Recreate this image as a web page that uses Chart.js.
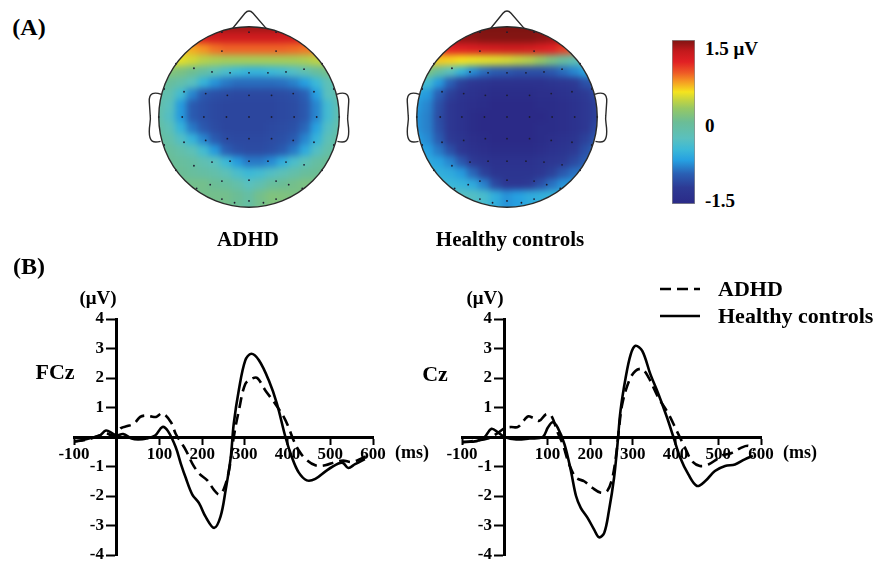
<!DOCTYPE html>
<html>
<head>
<meta charset="utf-8">
<script src="https://cdn.jsdelivr.net/npm/chart.js@4.4.0/dist/chart.umd.min.js"></script>
<style>
body { margin: 0; background: #fff; }
#fig { position: relative; width: 874px; height: 565px; overflow: hidden;
       font-family: "Liberation Serif", "Times New Roman", serif; font-weight: bold; color: #000; }
#fig canvas { position: absolute; }
.lbl { position: absolute; transform: translate(-50%, -50%); white-space: nowrap; line-height: 1; }
.lft { position: absolute; transform: translate(0, -50%); white-space: nowrap; line-height: 1; }
</style>
</head>
<body>
<div id="fig">
  <canvas id="headAdhd" width="230" height="230" style="left:134px;top:2px"></canvas>
  <canvas id="headCtrl" width="230" height="230" style="left:392px;top:2px"></canvas>
  <canvas id="colorBar" width="23" height="164" style="left:672px;top:40px"></canvas>
  <canvas id="erpFCz" width="400" height="300" style="left:20px;top:270px"></canvas>
  <canvas id="erpCz" width="444" height="300" style="left:430px;top:270px"></canvas>

  <div class="lbl" style="left:29px;top:27px;font-size:24px">(A)</div>
  <div class="lbl" style="left:248px;top:239px;font-size:21px">ADHD</div>
  <div class="lbl" style="left:510px;top:239px;font-size:21px">Healthy controls</div>
  <div class="lft" style="left:705px;top:48px;font-size:19px">1.5 μV</div>
  <div class="lft" style="left:705px;top:125px;font-size:19px">0</div>
  <div class="lft" style="left:705px;top:200px;font-size:19px">-1.5</div>

  <div class="lbl" style="left:29px;top:266px;font-size:24px">(B)</div>
  <div class="lbl" style="left:98px;top:297px;font-size:19px">(μV)</div>
  <div class="lbl" style="left:55px;top:372px;font-size:22px">FCz</div>
  <div class="lbl" style="left:412px;top:452px;font-size:18px">(ms)</div>
  <div class="lbl" style="left:485px;top:297px;font-size:19px">(μV)</div>
  <div class="lbl" style="left:435px;top:374px;font-size:22px">Cz</div>
  <div class="lbl" style="left:800px;top:452px;font-size:18px">(ms)</div>
</div>

<script>
// ---- topography grids (rows from front of head to back, columns left to right)
const gridU = [-1, -0.875, -0.75, -0.625, -0.5, -0.375, -0.25, -0.125, 0, 0.125, 0.25, 0.375, 0.5, 0.625, 0.75, 0.875, 1];

const topoAdhd = [
  [1.4, 1.4, 1.4, 1.4, 1.4, 1.4, 1.4, 1.4, 1.4, 1.4, 1.4, 1.4, 1.4, 1.4, 1.4, 1.4, 1.4],
  [1.12, 1.12, 1.14, 1.16, 1.18, 1.2, 1.22, 1.22, 1.22, 1.22, 1.22, 1.2, 1.2, 1.17, 1.14, 1.12, 1.12],
  [0.62, 0.62, 0.65, 0.7, 0.76, 0.84, 0.88, 0.88, 0.88, 0.88, 0.88, 0.88, 0.86, 0.83, 0.8, 0.76, 0.76],
  [0.55, 0.55, 0.5, 0.44, 0.36, 0.32, 0.3, 0.3, 0.3, 0.3, 0.3, 0.3, 0.3, 0.32, 0.38, 0.42, 0.42],
  [0.15, 0.15, 0.1, 0.02, -0.1, -0.25, -0.4, -0.5, -0.55, -0.55, -0.5, -0.45, -0.35, -0.2, -0.05, 0.05, 0.1],
  [-0.05, -0.05, -0.15, -0.3, -0.55, -0.75, -0.85, -0.9, -0.9, -0.9, -0.9, -0.88, -0.82, -0.7, -0.5, -0.25, -0.15],
  [-0.15, -0.2, -0.45, -0.8, -1.0, -1.05, -1.08, -1.1, -1.1, -1.1, -1.1, -1.08, -1.05, -0.95, -0.7, -0.3, -0.15],
  [-0.15, -0.3, -0.72, -0.98, -1.05, -1.1, -1.12, -1.12, -1.12, -1.12, -1.12, -1.1, -1.08, -1.0, -0.8, -0.45, -0.2],
  [-0.15, -0.35, -0.72, -0.98, -1.05, -1.1, -1.12, -1.12, -1.12, -1.12, -1.12, -1.1, -1.08, -1.0, -0.8, -0.45, -0.2],
  [-0.1, -0.25, -0.55, -0.85, -1.0, -1.08, -1.12, -1.12, -1.12, -1.12, -1.1, -1.08, -1.05, -0.92, -0.68, -0.35, -0.15],
  [-0.05, -0.15, -0.35, -0.55, -0.8, -0.98, -1.08, -1.1, -1.1, -1.1, -1.08, -1.05, -0.98, -0.8, -0.55, -0.25, -0.1],
  [0, -0.05, -0.15, -0.25, -0.45, -0.72, -0.95, -1.05, -1.08, -1.08, -1.05, -0.98, -0.85, -0.62, -0.35, -0.15, -0.05],
  [0.05, 0, -0.05, -0.1, -0.2, -0.3, -0.5, -0.72, -0.85, -0.85, -0.78, -0.6, -0.4, -0.25, -0.1, 0, 0],
  [0.05, 0.05, 0, -0.05, -0.1, -0.15, -0.25, -0.4, -0.5, -0.45, -0.35, -0.25, -0.15, -0.05, 0, 0.05, 0.05],
  [0.05, 0.05, 0.05, 0.05, 0.05, 0, -0.05, -0.15, -0.3, -0.2, -0.05, 0, 0.05, 0.1, 0.1, 0.1, 0.1],
  [0.05, 0.05, 0.05, 0.05, 0.05, 0.05, 0.05, 0, -0.1, 0.05, 0.12, 0.12, 0.1, 0.08, 0.08, 0.08, 0.08],
  [0.05, 0.05, 0.05, 0.05, 0.05, 0.05, 0.05, 0, -0.1, 0.05, 0.12, 0.12, 0.1, 0.08, 0.08, 0.08, 0.08]
];

const topoCtrl = [
  [1.5, 1.5, 1.5, 1.5, 1.5, 1.5, 1.5, 1.5, 1.5, 1.5, 1.5, 1.5, 1.5, 1.5, 1.5, 1.5, 1.5],
  [1.4, 1.4, 1.42, 1.42, 1.45, 1.45, 1.48, 1.48, 1.48, 1.48, 1.48, 1.45, 1.42, 1.4, 1.38, 1.35, 1.35],
  [1.05, 1.05, 1.08, 1.1, 1.12, 1.15, 1.18, 1.2, 1.22, 1.22, 1.2, 1.15, 1.1, 1.0, 0.9, 0.8, 0.8],
  [0.62, 0.62, 0.62, 0.6, 0.56, 0.52, 0.5, 0.48, 0.45, 0.4, 0.35, 0.25, 0.1, -0.05, -0.2, -0.3, -0.3],
  [0.15, 0.1, -0.08, -0.3, -0.55, -0.78, -0.9, -0.98, -1.0, -1.05, -1.05, -1.05, -1.0, -0.9, -0.8, -0.65, -0.6],
  [-0.4, -0.45, -0.72, -0.95, -1.15, -1.25, -1.3, -1.35, -1.35, -1.35, -1.35, -1.35, -1.3, -1.25, -1.2, -1.05, -0.95],
  [-0.65, -0.72, -0.95, -1.15, -1.3, -1.35, -1.4, -1.45, -1.45, -1.45, -1.45, -1.4, -1.4, -1.35, -1.3, -1.2, -1.1],
  [-0.72, -0.8, -1.05, -1.25, -1.35, -1.4, -1.45, -1.5, -1.5, -1.5, -1.5, -1.45, -1.45, -1.4, -1.35, -1.25, -1.15],
  [-0.75, -0.82, -1.08, -1.25, -1.35, -1.45, -1.5, -1.5, -1.5, -1.5, -1.5, -1.5, -1.45, -1.4, -1.35, -1.25, -1.15],
  [-0.75, -0.82, -1.05, -1.25, -1.35, -1.45, -1.5, -1.5, -1.5, -1.5, -1.5, -1.45, -1.45, -1.4, -1.35, -1.25, -1.1],
  [-0.7, -0.78, -0.98, -1.2, -1.3, -1.4, -1.45, -1.5, -1.5, -1.5, -1.5, -1.45, -1.4, -1.35, -1.3, -1.15, -1.0],
  [-0.65, -0.7, -0.85, -1.05, -1.25, -1.35, -1.4, -1.45, -1.45, -1.45, -1.45, -1.4, -1.35, -1.3, -1.2, -1.05, -0.9],
  [-0.6, -0.62, -0.68, -0.8, -1.0, -1.2, -1.3, -1.35, -1.35, -1.35, -1.35, -1.3, -1.25, -1.2, -1.1, -0.95, -0.85],
  [-0.55, -0.55, -0.58, -0.62, -0.72, -0.92, -1.15, -1.3, -1.3, -1.3, -1.3, -1.25, -1.15, -1.0, -0.88, -0.82, -0.82],
  [-0.5, -0.5, -0.5, -0.52, -0.55, -0.62, -0.82, -1.1, -1.25, -1.25, -1.2, -1.05, -0.88, -0.75, -0.7, -0.7, -0.7],
  [-0.3, -0.3, -0.3, -0.3, -0.32, -0.35, -0.42, -0.6, -0.75, -0.7, -0.62, -0.58, -0.55, -0.55, -0.55, -0.55, -0.55],
  [-0.3, -0.3, -0.3, -0.3, -0.32, -0.35, -0.42, -0.6, -0.75, -0.7, -0.62, -0.58, -0.55, -0.55, -0.55, -0.55, -0.55]
];

// electrode sites (head units, nose up)
const elecX = [-0.3, 0, 0.3, -0.3, 0.3,
  -0.81, -0.61, -0.41, -0.21, 0, 0.21, 0.41, 0.61, 0.81,
  -0.94, -0.72, -0.48, -0.24, 0, 0.25, 0.49, 0.72, 0.94,
  -1, -0.74, -0.5, -0.25, 0, 0.25, 0.5, 0.75, 1,
  -0.94, -0.72, -0.48, -0.24, 0, 0.25, 0.49, 0.72, 0.94,
  -0.81, -0.61, -0.41, -0.21, 0, 0.21, 0.41, 0.61, 0.81,
  -0.58, -0.43, -0.3, 0, 0.3, 0.44, 0.59,
  -0.3, -0.16, 0, 0.16, 0.3];
const elecY = [0.94, 0.94, 0.94, 0.73, 0.73,
  0.59, 0.54, 0.5, 0.49, 0.49, 0.49, 0.5, 0.53, 0.59,
  0.31, 0.28, 0.26, 0.24, 0.24, 0.24, 0.26, 0.28, 0.31,
  0, 0, 0, 0, 0, 0, 0, 0, 0,
  -0.31, -0.28, -0.26, -0.24, -0.24, -0.24, -0.26, -0.28, -0.31,
  -0.59, -0.54, -0.5, -0.49, -0.49, -0.49, -0.5, -0.53, -0.59,
  -0.79, -0.75, -0.71, -0.7, -0.71, -0.75, -0.79,
  -0.91, -0.95, -0.93, -0.95, -0.91];

// colour scale (µV -> jet-like colour)
const cbarMin = -1.5;
const cbarMax = 1.5;
const cmapStops = [
  [-1.5, [43, 42, 135]], [-1.2, [45, 58, 148]], [-0.95, [42, 95, 180]], [-0.7, [38, 160, 225]],
  [-0.5, [60, 185, 215]], [-0.3, [90, 192, 190]], [0, [107, 189, 150]], [0.25, [150, 200, 100]],
  [0.4, [195, 212, 65]], [0.55, [245, 228, 30]], [0.75, [245, 150, 35]], [0.9, [238, 90, 38]],
  [1.1, [225, 32, 36]], [1.3, [195, 25, 28]], [1.5, [125, 20, 18]]
];

// ---- ERP waveforms (time in ms, amplitude in µV)
const fczTimeCtrl = [-100, -80, -60, -40, -25, -10, 0, 15, 35, 50, 70, 90, 107, 120, 138, 150, 162, 177, 193, 208, 228, 243, 255, 267, 274, 286, 301, 315, 333, 356, 375, 395, 410, 426, 445, 465, 492, 519, 530, 542, 558, 581];
const fczCtrl = [-0.15, -0.1, -0.03, 0.05, 0.22, 0.12, 0.05, 0.1, -0.05, -0.08, -0.05, 0.05, 0.34, 0.2, -0.34, -0.9, -1.4, -1.95, -2.25, -2.7, -3.08, -2.7, -1.8, -0.68, 0.45, 1.6, 2.6, 2.82, 2.6, 1.92, 1.13, 0, -0.68, -1.2, -1.47, -1.42, -1.13, -0.9, -0.88, -1.05, -0.92, -0.75];
const fczTimeAdhd = [-100, -80, -60, -40, -25, -10, 0, 10, 25, 40, 55, 68, 80, 92, 107, 127, 138, 150, 162, 177, 193, 212, 228, 240, 251, 263, 274, 286, 301, 317, 329, 348, 371, 391, 402, 414, 426, 441, 465, 488, 511, 530, 550, 573, 590];
const fczAdhd = [-0.15, -0.12, -0.05, 0.05, 0.12, 0.05, 0.1, 0.3, 0.37, 0.45, 0.68, 0.73, 0.7, 0.68, 0.8, 0.5, 0.11, -0.17, -0.45, -0.9, -1.24, -1.47, -1.8, -1.95, -1.75, -1.13, 0, 0.9, 1.8, 1.98, 2.0, 1.58, 1.13, 0.68, 0.34, -0.11, -0.45, -0.73, -0.96, -0.96, -0.85, -0.8, -0.85, -0.73, -0.6];

const czTimeCtrl = [-100, -66, -47, -31, -15, 0, 27, 58, 89, 101, 112, 124, 140, 155, 167, 178, 194, 209, 221, 233, 244, 256, 264, 271, 283, 295, 306, 322, 341, 360, 380, 395, 411, 430, 450, 469, 492, 516, 539, 562, 581];
const czCtrl = [-0.16, -0.14, 0, 0.28, 0.15, 0, -0.08, -0.05, 0, 0.32, 0.5, 0.32, -0.25, -1.15, -2.0, -2.4, -2.74, -3.13, -3.4, -3.25, -2.5, -1.38, -0.25, 0.88, 2.0, 2.8, 3.09, 2.92, 2.13, 1.45, 0.66, 0, -0.7, -1.27, -1.66, -1.5, -1.15, -0.98, -0.93, -0.76, -0.64];
const czTimeAdhd = [-100, -70, -40, -20, 0, 15, 31, 47, 55, 66, 81, 97, 109, 124, 136, 151, 167, 186, 205, 225, 240, 252, 260, 267, 275, 291, 306, 322, 337, 360, 384, 403, 422, 438, 457, 477, 496, 510, 530, 553, 570, 585];
const czAdhd = [-0.19, -0.13, -0.05, 0.1, 0.3, 0.34, 0.34, 0.6, 0.7, 0.65, 0.55, 0.77, 0.72, 0.15, -0.25, -0.93, -1.38, -1.5, -1.72, -1.89, -1.83, -1.38, -0.7, 0.2, 1.1, 1.9, 2.24, 2.3, 2.01, 1.33, 0.77, 0.2, -0.36, -0.81, -0.98, -0.93, -0.76, -0.62, -0.55, -0.37, -0.3, -0.45];

const timeTicks = { min: -100, max: 600, step: 100 };
const voltTicks = { min: -4, max: 4, step: 1 };

const serif = '"Liberation Serif", "Times New Roman", serif';

// map a value to a colour along the stops
function colorFor(v) {
  v = Math.max(cbarMin, Math.min(cbarMax, v));
  for (let i = 1; i < cmapStops.length; i++) {
    const [v1, c1] = cmapStops[i];
    const [v0, c0] = cmapStops[i - 1];
    if (v <= v1) {
      const t = (v - v0) / (v1 - v0);
      const c = c0.map((a, k) => Math.round(a + (c1[k] - a) * t));
      return `rgb(${c[0]},${c[1]},${c[2]})`;
    }
  }
  return 'rgb(125,20,18)';
}

function gridPoints(rows) {
  const pts = [];
  rows.forEach((row, i) => {
    row.forEach((v, j) => {
      pts.push({ x: gridU[j], y: gridU[gridU.length - 1 - i], v: v });
    });
  });
  return pts;
}

// smooth the field layer, clip it to the scalp, then draw the head outline
const topoHead = {
  id: 'topoHead',
  afterDatasetDraw(chart, args, opts) {
    if (args.index !== 0) return;
    const sx = chart.scales.x, sy = chart.scales.y;
    const cx = sx.getPixelForValue(0), cy = sy.getPixelForValue(0);
    const r = sx.getPixelForValue(1) - cx;
    const cv = chart.canvas;
    const tmp = document.createElement('canvas');
    tmp.width = cv.width;
    tmp.height = cv.height;
    tmp.getContext('2d').drawImage(cv, 0, 0);
    const ctx = chart.ctx;
    ctx.save();
    ctx.setTransform(1, 0, 0, 1, 0, 0);
    ctx.clearRect(0, 0, cv.width, cv.height);
    ctx.beginPath();
    ctx.arc(cx, cy, r, 0, Math.PI * 2);
    ctx.clip();
    ctx.filter = `blur(${opts.blur}px)`;
    ctx.drawImage(tmp, 0, 0);
    ctx.restore();
  },
  afterDraw(chart, args, opts) {
    const sx = chart.scales.x, sy = chart.scales.y;
    const px = u => sx.getPixelForValue(u);
    const py = u => sy.getPixelForValue(u);
    const ctx = chart.ctx;
    ctx.save();
    ctx.strokeStyle = opts.color;
    ctx.lineWidth = opts.lineWidth;
    ctx.lineJoin = 'round';
    // scalp
    ctx.beginPath();
    ctx.arc(px(0), py(0), px(1) - px(0), 0, Math.PI * 2);
    ctx.stroke();
    // nose
    ctx.beginPath();
    ctx.moveTo(px(-0.18), py(0.984));
    ctx.lineTo(px(-0.045), py(1.15));
    ctx.quadraticCurveTo(px(0), py(1.2), px(0.045), py(1.15));
    ctx.lineTo(px(0.19), py(0.982));
    ctx.stroke();
    // ears
    [-1, 1].forEach(s => {
      ctx.beginPath();
      ctx.moveTo(px(s * 0.97), py(0.25));
      ctx.bezierCurveTo(px(s * 1.05), py(0.28), px(s * 1.11), py(0.27), px(s * 1.105), py(0.17));
      ctx.lineTo(px(s * 1.095), py(0.02));
      ctx.bezierCurveTo(px(s * 1.085), py(-0.04), px(s * 1.105), py(-0.08), px(s * 1.105), py(-0.16));
      ctx.bezierCurveTo(px(s * 1.105), py(-0.28), px(s * 1.06), py(-0.29), px(s * 0.98), py(-0.27));
      ctx.stroke();
    });
    ctx.restore();
  }
};

function headChart(id, rows) {
  const pts = gridPoints(rows);
  const step = gridU[1] - gridU[0];
  const dots = elecX.map((x, i) => ({ x: x, y: elecY[i] }));
  return new Chart(document.getElementById(id), {
    type: 'scatter',
    data: {
      datasets: [{
        data: pts,
        order: 2,
        pointStyle: 'rect',
        pointBorderWidth: 0,
        pointBackgroundColor: pts.map(p => colorFor(p.v)),
        pointRadius: ctx => {
          const s = ctx.chart.scales.x;
          return Math.abs(s.getPixelForValue(step) - s.getPixelForValue(0)) / Math.SQRT2 + 0.7;
        }
      }, {
        data: dots,
        order: 1,
        pointRadius: 0.9,
        pointBorderWidth: 0,
        pointBackgroundColor: '#1c1c30'
      }]
    },
    options: {
      responsive: false,
      animation: false,
      events: [],
      layout: { padding: 0 },
      scales: {
        x: { type: 'linear', min: -1.23, max: 1.23, display: false },
        y: { type: 'linear', min: -1.23, max: 1.23, display: false }
      },
      plugins: {
        legend: { display: false },
        tooltip: { enabled: false },
        topoHead: { blur: 3, color: '#2a2a2a', lineWidth: 1.4 }
      }
    },
    plugins: [topoHead]
  });
}

headChart('headAdhd', topoAdhd);
headChart('headCtrl', topoCtrl);

// colour bar
new Chart(document.getElementById('colorBar'), {
  type: 'bar',
  data: {
    labels: ['μV'],
    datasets: [{
      data: [[cbarMin, cbarMax]],
      barPercentage: 1,
      categoryPercentage: 1,
      borderWidth: 1,
      borderColor: '#8c8c8c',
      borderSkipped: false,
      backgroundColor: ctx => {
        const chart = ctx.chart;
        if (!chart.chartArea) return null;
        const y = chart.scales.y;
        const g = chart.ctx.createLinearGradient(0, y.getPixelForValue(cbarMin), 0, y.getPixelForValue(cbarMax));
        cmapStops.forEach(([v]) => g.addColorStop((v - cbarMin) / (cbarMax - cbarMin), colorFor(v)));
        return g;
      }
    }]
  },
  options: {
    responsive: false,
    animation: false,
    events: [],
    layout: { padding: 0 },
    scales: {
      x: { display: false },
      y: { display: false, min: cbarMin, max: cbarMax }
    },
    plugins: { legend: { display: false }, tooltip: { enabled: false } }
  }
});

// legend drawn with the dataset styles
const lineKey = {
  id: 'lineKey',
  afterDraw(chart, args, opts) {
    const ctx = chart.ctx;
    ctx.save();
    ctx.font = `bold ${opts.size}px ${serif}`;
    ctx.textBaseline = 'middle';
    chart.data.datasets.forEach((ds, i) => {
      const yy = opts.top + i * opts.rowGap;
      ctx.strokeStyle = ds.borderColor;
      ctx.lineWidth = 2.6;
      ctx.setLineDash(ds.borderDash || []);
      ctx.beginPath();
      ctx.moveTo(opts.left, yy);
      ctx.lineTo(opts.left + opts.lineLen, yy);
      ctx.stroke();
      ctx.setLineDash([]);
      ctx.fillStyle = '#000';
      ctx.fillText(ds.label, opts.left + opts.lineLen + opts.gap, yy + 1);
    });
    ctx.restore();
  }
};

function erpChart(id, tA, vA, tC, vC, padding, withKey) {
  const toPts = (t, v) => t.map((x, i) => ({ x: x, y: v[i] }));
  const plugins = {
    legend: { display: false },
    tooltip: { enabled: false }
  };
  if (withKey) plugins.lineKey = { left: 230, top: 19, rowGap: 27, lineLen: 40, gap: 18, size: 22 };
  return new Chart(document.getElementById(id), {
    type: 'line',
    data: {
      datasets: [{
        label: 'ADHD',
        data: toPts(tA, vA),
        borderColor: '#000',
        borderWidth: 2.6,
        borderDash: [11, 6],
        pointRadius: 0,
        tension: 0.35,
        fill: false
      }, {
        label: 'Healthy controls',
        data: toPts(tC, vC),
        borderColor: '#000',
        borderWidth: 2.6,
        pointRadius: 0,
        tension: 0.35,
        fill: false
      }]
    },
    options: {
      responsive: false,
      animation: false,
      events: [],
      layout: { padding: padding },
      scales: {
        x: {
          type: 'linear',
          position: { y: 0 },
          min: timeTicks.min,
          max: timeTicks.max,
          border: { display: true, color: '#000', width: 3 },
          grid: { drawOnChartArea: false, drawTicks: true, tickLength: 6, tickWidth: 2, tickColor: '#000' },
          ticks: {
            stepSize: timeTicks.step,
            color: '#000',
            padding: 1,
            maxRotation: 0,
            font: { family: serif, size: 17, weight: 'bold' },
            callback: v => (v === 0 ? '' : v)
          }
        },
        y: {
          type: 'linear',
          position: { x: 0 },
          min: voltTicks.min,
          max: voltTicks.max,
          border: { display: true, color: '#000', width: 3 },
          grid: { drawOnChartArea: false, drawTicks: true, tickLength: 9, tickWidth: 2, tickColor: '#000' },
          ticks: {
            stepSize: voltTicks.step,
            color: '#000',
            font: { family: serif, size: 17, weight: 'bold' },
            // labels of an axis placed at x = 0 sit on the axis line, so pad them with spaces
            callback: v => (v === 0 ? '' : v + '\u2002\u2005')
          }
        }
      },
      plugins: plugins
    },
    plugins: withKey ? [lineKey] : []
  });
}

erpChart('erpFCz', fczTimeAdhd, fczAdhd, fczTimeCtrl, fczCtrl,
  { left: 54, right: 47, top: 49, bottom: 15 }, false);
erpChart('erpCz', czTimeAdhd, czAdhd, czTimeCtrl, czCtrl,
  { left: 32, right: 113, top: 49, bottom: 15 }, true);
</script>
</body>
</html>
